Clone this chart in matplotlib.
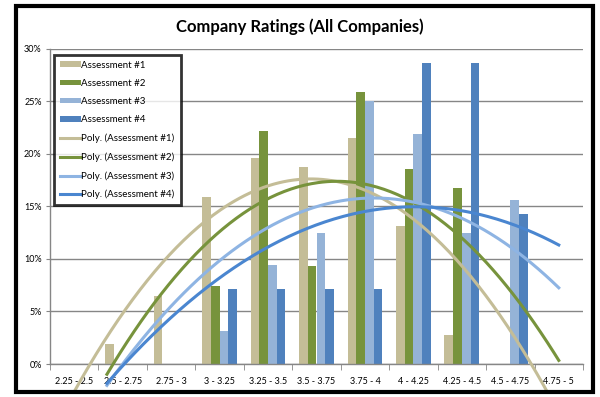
import numpy as np
import matplotlib
matplotlib.use('Agg')
import matplotlib.pyplot as plt
from matplotlib.patches import Rectangle, Patch
from matplotlib.lines import Line2D

plt.rcParams['font.family'] = ['Lato', 'DejaVu Sans']

categories = ['2.25 - 2.5', '2.5 - 2.75', '2.75 - 3', '3 - 3.25', '3.25 - 3.5',
              '3.5 - 3.75', '3.75 - 4', '4 - 4.25', '4.25 - 4.5', '4.5 - 4.75', '4.75 - 5']

# share of companies per rating bucket (%)
assess1 = [0, 1.9, 6.5, 15.9, 19.6, 18.7, 21.5, 13.1, 2.8, 0, 0]
assess2 = [0, 0, 0, 7.4, 22.2, 9.3, 25.9, 18.5, 16.7, 0, 0]
assess3 = [0, 0, 0, 3.1, 9.4, 12.5, 25.0, 21.9, 12.5, 15.6, 0]
assess4 = [0, 0, 0, 7.1, 7.1, 7.1, 7.1, 28.6, 28.6, 14.3, 0]

names = ['Assessment #1', 'Assessment #2', 'Assessment #3', 'Assessment #4']
bar_colors = ['#C4BD97', '#77933C', '#95B3D7', '#4F81BD']
line_colors = ['#C4BD97', '#77933C', '#8EB4E3', '#4A86D0']
trend_start = [0.0, 0.675, 0.675, 0.675]

series = [assess1, assess2, assess3, assess4]

fig = plt.figure(figsize=(6, 3.97), dpi=100)
ax = fig.add_axes([50/600, 1-364/397, 533/600, 315.5/397])

x = np.arange(len(categories))
bw = 0.18
for i, vals in enumerate(series):
    ax.bar(x + (i - 1.5)*bw, vals, width=bw, color=bar_colors[i], zorder=2)

# chart border, also used to clip the trendlines
border = Rectangle((16/600, 1-392/397), 577/600, 386/397, transform=fig.transFigure,
                   fill=False, edgecolor='black', lw=3, zorder=10)
fig.patches.append(border)
clip = Rectangle((16/600, 1-390/397), 577/600, 384/397, transform=fig.transFigure,
                 fill=False, visible=False)
fig.patches.append(clip)

# 2nd order polynomial trendlines
for i, vals in enumerate(series):
    coef = np.polyfit(x, vals, 2)
    xs = np.linspace(trend_start[i], x[-1], 200)
    ln, = ax.plot(xs, np.polyval(coef, xs), color=line_colors[i], lw=2.2, zorder=3)
    ln.set_clip_path(clip)

ax.set_xlim(-0.5, len(categories) - 0.5)
ax.set_ylim(0, 30)
ax.set_yticks(np.arange(0, 31, 5))
ax.set_yticklabels([f'{v}%' for v in range(0, 31, 5)], fontsize=6.5)
ax.set_xticks(x)
ax.set_xticklabels(categories, fontsize=6.5)
ax.set_xticks(np.arange(-0.5, len(categories)), minor=True)
ax.tick_params(axis='x', which='major', length=0, pad=9)
ax.tick_params(axis='x', which='minor', length=4, color='#868686')
ax.tick_params(axis='y', length=3, color='#868686', pad=3)
ax.yaxis.grid(True, color='#868686', lw=1)
ax.set_axisbelow(True)
for s in ['top', 'right']:
    ax.spines[s].set_visible(False)
for s in ['left', 'bottom']:
    ax.spines[s].set_color('#868686')
    ax.spines[s].set_linewidth(1)

fig.text(0.5, 1-27/397, 'Company Ratings (All Companies)', ha='center', va='center',
         fontsize=12, fontweight='bold')

handles = [Patch(facecolor=c) for c in bar_colors]
handles += [Line2D([0], [0], color=c, lw=2.2) for c in line_colors]
labels = names + [f'Poly. ({n})' for n in names]
leg = ax.legend(handles, labels, loc='upper left', bbox_to_anchor=(0.008, 0.98),
                fontsize=7, frameon=True, fancybox=False, handlelength=2.1,
                handleheight=0.5, labelspacing=0.95, handletextpad=0.1,
                borderpad=0.6, borderaxespad=0)
leg.get_frame().set_edgecolor('black')
leg.get_frame().set_linewidth(2)
leg.set_zorder(5)

fig.savefig('out.png', dpi=100)
